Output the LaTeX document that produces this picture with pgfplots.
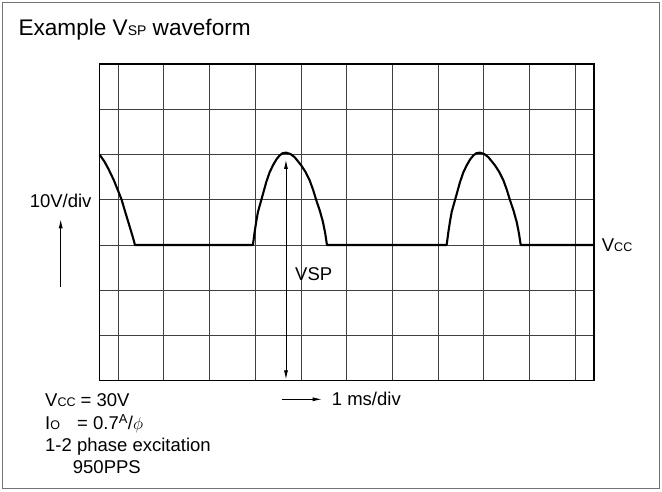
\documentclass[border=0pt]{standalone}
\usepackage{pgfplots}
\pgfplotsset{compat=1.18}
\usepackage{fontspec}
\setmainfont{Liberation Sans}
\usetikzlibrary{arrows.meta}
\newcommand{\lab}{\fontsize{18.5}{20}\selectfont}
\newcommand{\sm}[1]{{\fontsize{12.5}{12}\selectfont #1}}
\newcommand{\smt}[1]{{\fontsize{14}{14}\selectfont #1}}
\begin{document}
\begin{tikzpicture}[x=1pt,y=1pt]
\path[use as bounding box] (0,0) rectangle (662,491);
\draw[line width=1.3pt, black!55] (2.5,2.5) rectangle (659.5,488.5);
\begin{axis}[
  at={(99.5pt,110.3pt)}, anchor=south west,
  scale only axis, width=494.5pt, height=316.7pt,
  xmin=-0.41, xmax=10.41, ymin=0, ymax=7,
  xtick={0,...,10}, ytick={0,...,7},
  xticklabels={}, yticklabels={},
  major tick length=0pt,
  grid=major,
  grid style={line width=0.9pt, black!75},
  axis line style={line width=1.2pt, black},
  clip=false,
]
\addplot[black, line width=2.1pt, line join=round] coordinates {
(-0.41,5.00) (-0.30,4.84) (-0.219,4.69) (-0.10,4.44) (0,4.19) (0.074,4.00)
(0.15,3.74) (0.219,3.51) (0.306,3.22) (0.340,3.10) (0.365,3.00)
(2.947,3.00) (2.985,3.29) (3.02,3.52) (3.057,3.73) (3.129,3.99) (3.239,4.39)
(3.31,4.60) (3.385,4.76) (3.46,4.89) (3.532,4.98) (3.60,5.03) (3.676,5.04)
(3.77,5.01) (3.860,4.94) (4.004,4.76) (4.10,4.61) (4.188,4.43) (4.26,4.23)
(4.333,3.99) (4.41,3.76) (4.479,3.51) (4.53,3.25) (4.567,3.00)
(7.186,3.00) (7.224,3.29) (7.259,3.52) (7.296,3.73) (7.368,3.99) (7.478,4.39)
(7.549,4.60) (7.624,4.76) (7.699,4.89) (7.771,4.98) (7.839,5.03) (7.915,5.04)
(8.009,5.01) (8.099,4.94) (8.243,4.76) (8.339,4.61) (8.427,4.43) (8.499,4.23)
(8.572,3.99) (8.649,3.76) (8.718,3.51) (8.769,3.25) (8.806,3.00)
(10.41,3.00)
};
\draw[line width=0.8pt, {Latex[length=9pt,width=4pt]}-{Latex[length=9pt,width=4pt]}]
  (axis cs:3.67,4.88) -- (axis cs:3.67,0.03);
\end{axis}
\node[anchor=base west, inner sep=0pt, font=\fontsize{22.6}{24}\selectfont] at (18.3,455) {Example V\smt{SP} waveform};
\node[anchor=base east, inner sep=0pt, font=\lab] at (91.7,283.7) {10V/div};
\draw[line width=0.8pt, -{Latex[length=9pt,width=4pt]}] (60.7,204.3) -- (60.7,271.7);
\node[anchor=base west, inner sep=0pt, font=\lab] at (295,211) {VSP};
\node[anchor=base west, inner sep=0pt, font=\lab] at (601.7,239.3) {V\sm{CC}};
\draw[line width=0.8pt, -{Latex[length=9pt,width=4pt]}] (281.7,91.7) -- (321.7,91.7);
\node[anchor=base west, inner sep=0pt, font=\lab] at (331.7,86) {1 ms/div};
\node[anchor=base west, inner sep=0pt, font=\lab] at (45,85) {V\sm{CC} = 30V};
\node[anchor=base west, inner sep=0pt, font=\lab] at (45,61.7) {I\sm{O}};
\node[anchor=base west, inner sep=0pt, font=\lab] at (77,61.7) {= 0.7\textsuperscript{A}/$\phi$};
\node[anchor=base west, inner sep=0pt, font=\lab] at (45,39.3) {1-2 phase excitation};
\node[anchor=base west, inner sep=0pt, font=\lab] at (72.7,17.7) {950PPS};
\end{tikzpicture}
\end{document}
